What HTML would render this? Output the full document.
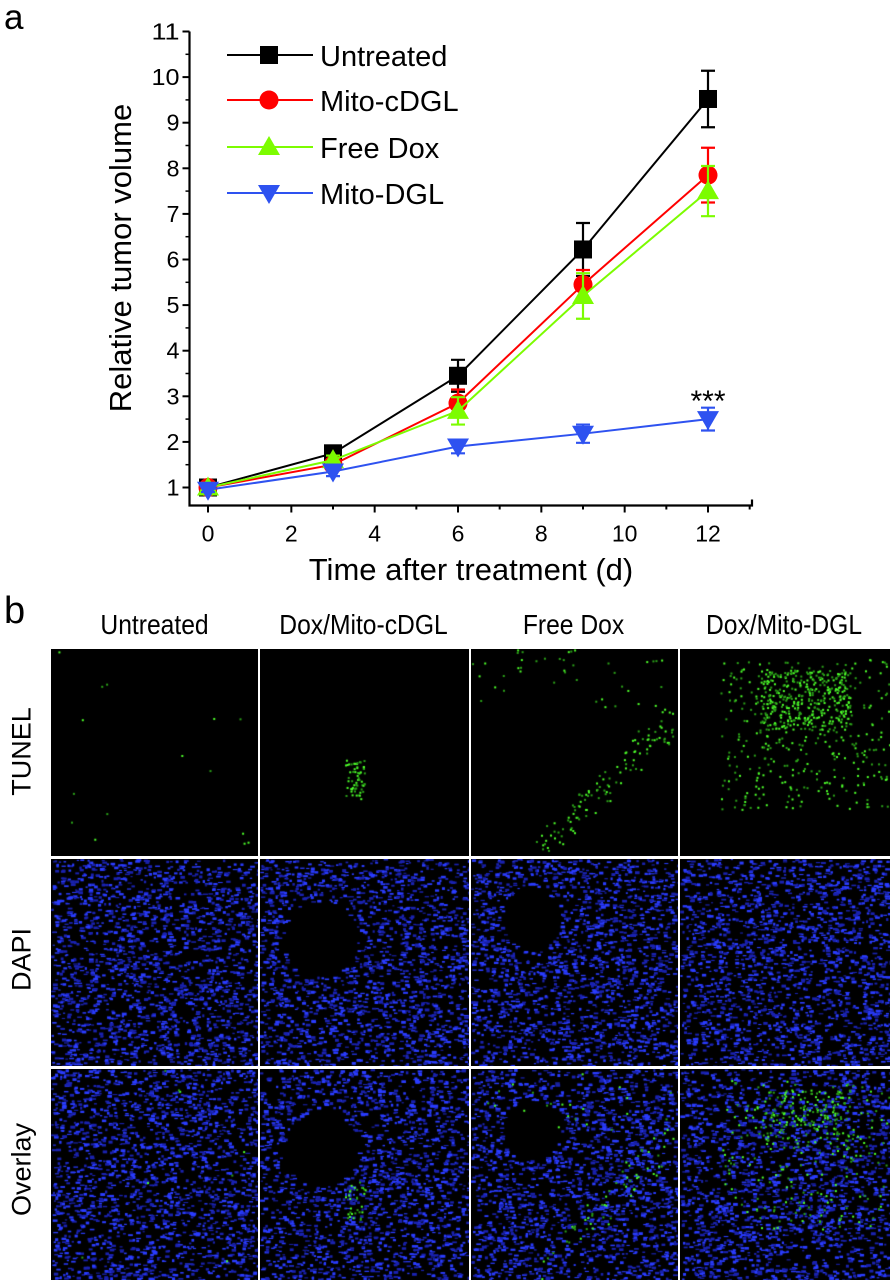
<!DOCTYPE html>
<html><head><meta charset="utf-8"><style>
html,body{margin:0;padding:0;background:#fff;}
body{width:890px;height:1280px;position:relative;overflow:hidden;font-family:"Liberation Sans",sans-serif;}
svg text{font-family:"Liberation Sans",sans-serif;}
canvas{position:absolute;display:block;}
.hd{position:absolute;font-size:28px;top:609px;text-align:center;transform:scaleX(0.88);}
.rl{position:absolute;font-size:27px;transform:rotate(-90deg);transform-origin:center;text-align:center;width:120px;}
</style></head><body>
<svg id="chart" width="890" height="600" style="position:absolute;left:0;top:0">
<text x="4" y="29" font-size="35">a</text>
</svg>
<div style="position:absolute;left:4px;top:590px;font-size:38px;">b</div>
<div class="hd" style="left:51px;width:207px">Untreated</div>
<div class="hd" style="left:258px;width:211px">Dox/Mito-cDGL</div>
<div class="hd" style="left:469px;width:209px">Free Dox</div>
<div class="hd" style="left:678px;width:212px">Dox/Mito-DGL</div>
<div class="rl" style="left:-38px;top:736px">TUNEL</div>
<div class="rl" style="left:-38px;top:944px">DAPI</div>
<div class="rl" style="left:-38px;top:1154px">Overlay</div>
<div id="grid"></div>
<script>
// ---- chart data ----
const days = [0,3,6,9,12];
const untreated = [1.0,1.75,3.45,6.22,9.52];
const untreatedErr = [0.1,0.1,0.35,0.58,0.62];
const mitoCDGL = [1.0,1.5,2.85,5.45,7.85];
const mitoCDGLErr = [0.1,0.1,0.3,0.32,0.6];
const freeDox = [1.0,1.6,2.68,5.2,7.5];
const freeDoxErr = [0.1,0.1,0.3,0.5,0.55];
const mitoDGL = [0.95,1.35,1.9,2.18,2.5];
const mitoDGLErr = [0.05,0.1,0.15,0.2,0.25];
const xTicks = [0,2,4,6,8,10,12];
const yTicks = [1,2,3,4,5,6,7,8,9,10,11];

const NS='http://www.w3.org/2000/svg';
const svg=document.getElementById('chart');
const X0=208,X12=708, Y1=487.5,Y11=31.5;
const sx=v=>X0+(X12-X0)*v/12;
const sy=v=>Y1+(Y11-Y1)*(v-1)/10;
const L=189.5,R=752,B=505.5,T=31.5;
function mk(tag,attrs,parent){const e=document.createElementNS(NS,tag);for(const k in attrs)e.setAttribute(k,attrs[k]);(parent||svg).appendChild(e);return e;}
const ax=mk('path',{d:`M${L},${T}V${B}H${R}V${B-6}`,stroke:'#000','stroke-width':2.2,fill:'none'});


yTicks.forEach(v=>{
  const y=sy(v);
  const t=mk('line',{x1:L-7,x2:L,y1:y,y2:y,stroke:'#000','stroke-width':2});
  
  
  const lb=mk('text',{x:L-10,y:y+8,'font-size':23,'text-anchor':'end',textLength:(v>=10?28:13),lengthAdjust:'spacingAndGlyphs'});lb.textContent=v;
  
  
  if(v<11){const m=mk('line',{x1:L-4,x2:L,y1:sy(v+0.5),y2:sy(v+0.5),stroke:'#000','stroke-width':1.5});
  
  }
});
for(let v=0;v<=13;v+=1){
  const major=xTicks.includes(v);
  const x=sx(v);
  const t=mk('line',{x1:x,x2:x,y1:B,y2:B+(major?7:4),stroke:'#000','stroke-width':2});
  
  
  if(major){const lb=mk('text',{x:x,y:B+36,'font-size':23,'text-anchor':'middle'});lb.textContent=v;
  
  }
}
const xt=mk('text',{x:471,y:580,'font-size':31,'text-anchor':'middle'});xt.textContent='Time after treatment (d)';


const yt=mk('text',{x:0,y:0,'font-size':31,'text-anchor':'middle',transform:'translate(131,258) rotate(-90)'});yt.textContent='Relative tumor volume';



function marker(shape,x,y,color,g){
  const s=9;
  let e;
  if(shape==='square')e=mk('rect',{x:x-s,y:y-s,width:2*s,height:2*s,fill:color},g);
  else if(shape==='circle')e=mk('circle',{cx:x,cy:y,r:s+0.5,fill:color},g);
  else if(shape==='up')e=mk('polygon',{points:`${x},${y-s-2} ${x-s-2},${y+s-1} ${x+s+2},${y+s-1}`,fill:color},g);
  else e=mk('polygon',{points:`${x},${y+s+2} ${x-s-2},${y-s+1} ${x+s+2},${y-s+1}`,fill:color},g);
  
  
}
const series=[
 {name:'Untreated',vals:untreated,err:untreatedErr,color:'#000',shape:'square',key:'untreated'},
 {name:'Mito-cDGL',vals:mitoCDGL,err:mitoCDGLErr,color:'#f00',shape:'circle',key:'mito-cdgl'},
 {name:'Free Dox',vals:freeDox,err:freeDoxErr,color:'#7cfc00',shape:'up',key:'free-dox'},
 {name:'Mito-DGL',vals:mitoDGL,err:mitoDGLErr,color:'#2e52f0',shape:'down',key:'mito-dgl'}];
series.forEach((s,si)=>{
  const g=mk('g',{});
  
  
  const pl=mk('polyline',{points:days.map((d,i)=>sx(d)+','+sy(s.vals[i])).join(' '),fill:'none',stroke:s.color,'stroke-width':2},g);
  
  
  days.forEach((d,i)=>{
    const x=sx(d),yh=sy(s.vals[i]+s.err[i]),yl=sy(s.vals[i]-s.err[i]);
    const eb=mk('path',{d:`M${x},${yh}V${yl}M${x-7},${yh}H${x+7}M${x-7},${yl}H${x+7}`,stroke:s.color,'stroke-width':2.2,fill:'none'},g);
    
    
    marker(s.shape,x,sy(s.vals[i]),s.color,g);
  });
  const ly=[55,100,147,193][si];
  const lg=mk('g',{});
  
  
  mk('line',{x1:227,x2:313,y1:ly,y2:ly,stroke:s.color,'stroke-width':2},lg);
  marker(s.shape,269,ly,s.color,lg);
  const tx=mk('text',{x:320,y:ly+11,'font-size':29},lg);tx.textContent=s.name;
});
const st=mk('text',{x:sx(12),y:sy(2.5)-8,'font-size':30,'text-anchor':'middle'});st.textContent='***';



// ---- microscopy panels (decorative textures) ----
let seed=12345;function rnd(){seed=(seed*16807)%2147483647;return seed/2147483647;}
const cols=[[51,207],[260,209],[471,207],[680,210]];
const rows=[[649,207],[859,207],[1069,211]];
const greenAmt=[15,60,160,700];
const grid=document.getElementById('grid');
const names=['untreated','dox-mito-cdgl','free-dox','dox-mito-dgl'],rn=['tunel','dapi','overlay'];
rows.forEach((r,ri)=>cols.forEach((c,ci)=>{
  const cv=document.createElement('canvas');cv.width=c[1];cv.height=r[1];
  cv.style.left=c[0]+'px';cv.style.top=r[0]+'px';
  
  
  grid.appendChild(cv);
  const ctx=cv.getContext('2d');ctx.fillStyle='#000';ctx.fillRect(0,0,c[1],r[1]);
  if(ri>0){
    for(let k=0;k<1900;k++){
      const x=rnd()*c[1],y=rnd()*r[1];
      if(ci===1&&((x-60)**2+(y-80)**2<1400))continue;
      if(ci===2&&((x-60)**2+(y-60)**2<900))continue;
      ctx.fillStyle=rnd()<0.5?'#2a3cff':'#1a22b0';
      ctx.fillRect(x,y,2+rnd()*3,1+rnd()*2);
    }
  }
  if(ri!==1){
    const cx=[0,85,130,110][ci],cy=[0,110,120,80][ci];
    for(let k=0;k<greenAmt[ci]*(ri===2?0.5:1);k++){
      let x,y;
      if(ci===3){x=40+rnd()*170;y=10+rnd()*150;if(rnd()<0.5){x=80+rnd()*90;y=20+rnd()*60;}}
      else if(ci===2){const t=rnd();x=60+t*130+rnd()*20;y=200-t*130+rnd()*30-15;if(rnd()<0.3){x=rnd()*200;y=rnd()*60;}}
      else if(ci===1){x=cx+rnd()*20;y=cy+rnd()*40;}
      else{x=rnd()*c[1];y=rnd()*r[1];}
      ctx.fillStyle=rnd()<0.5?'#4dff2a':'#2aa018';
      ctx.fillRect(x,y,2,2);
    }
  }
}));
</script>
</body></html>
